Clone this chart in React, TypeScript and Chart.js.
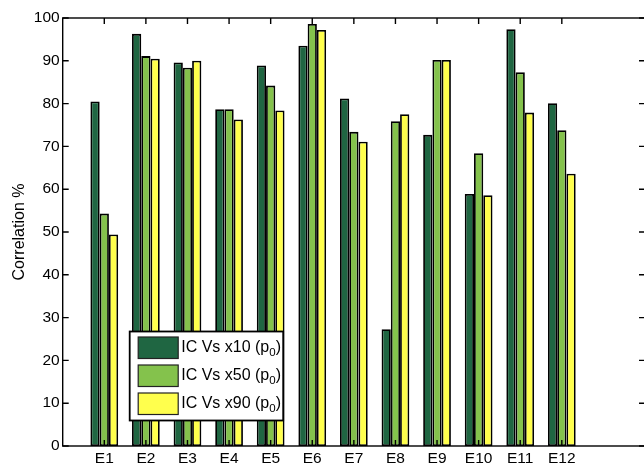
import React, { useEffect, useRef } from "react";
import { Chart, registerables } from "chart.js";

Chart.register(...registerables);

const categories = ["E1", "E2", "E3", "E4", "E5", "E6", "E7", "E8", "E9", "E10", "E11", "E12"];
const seriesLabels = ["IC Vs x10 (p₀)", "IC Vs x50 (p₀)", "IC Vs x90 (p₀)"];
const x10Values = [80.5, 96.3, 89.6, 78.7, 88.9, 93.5, 81.2, 27.3, 72.7, 58.9, 97.4, 80.1];
const x50Values = [54.3, 91.1, 88.4, 78.7, 84.2, 98.6, 73.4, 75.9, 90.2, 68.4, 87.3, 73.8];
const x90Values = [49.4, 90.5, 90.0, 76.3, 78.4, 97.2, 71.1, 77.5, 90.2, 58.6, 77.9, 63.6];
const yTicks = [0, 10, 20, 30, 40, 50, 60, 70, 80, 90, 100];
const seriesColors = ["#1f6642", "#84c24c", "#ffff4d"];

const FONT = '"Liberation Sans", Arial, Helvetica, sans-serif';

const framePlugin = {
  id: "frame",
  afterDatasetsDraw(chart: any) {
    const { ctx, chartArea: a, scales } = chart;
    const x = scales.x;
    const y = scales.y;
    ctx.save();
    ctx.strokeStyle = "#000";
    ctx.lineWidth = 1.4;
    ctx.strokeRect(a.left, a.top, a.right - a.left, a.bottom - a.top);
    const tl = 6;
    ctx.beginPath();
    yTicks.forEach((v) => {
      const py = y.getPixelForValue(v);
      ctx.moveTo(a.left, py);
      ctx.lineTo(a.left + tl, py);
      ctx.moveTo(a.right, py);
      ctx.lineTo(a.right - tl, py);
    });
    categories.forEach((_, i) => {
      const px = x.getPixelForValue(i + 1);
      ctx.moveTo(px, a.top);
      ctx.lineTo(px, a.top + tl);
      ctx.moveTo(px, a.bottom);
      ctx.lineTo(px, a.bottom - tl);
    });
    ctx.stroke();
    ctx.restore();
  },
};

const legendPlugin = {
  id: "boxLegend",
  afterDraw(chart: any) {
    const { ctx, chartArea: a } = chart;
    const bx = a.left + 67;
    const by = a.bottom - 114.5;
    const bw = 153.5;
    const bh = 89;
    ctx.save();
    ctx.fillStyle = "#fff";
    ctx.fillRect(bx, by, bw, bh);
    ctx.strokeStyle = "#000";
    ctx.lineWidth = 1.8;
    ctx.strokeRect(bx, by, bw, bh);
    chart.data.datasets.forEach((ds: any, i: number) => {
      const sx = bx + 8.5;
      const sy = by + 5.5 + i * 28;
      const sw = 40;
      const sh = 21.5;
      ctx.fillStyle = ds.backgroundColor;
      ctx.fillRect(sx, sy, sw, sh);
      ctx.strokeStyle = "#222";
      ctx.lineWidth = 1.2;
      ctx.strokeRect(sx, sy, sw, sh);
      const cy = sy + sh / 2;
      const parts = String(ds.label).split("₀");
      let tx = sx + sw + 3;
      ctx.fillStyle = "#000";
      ctx.textBaseline = "middle";
      ctx.textAlign = "left";
      ctx.font = `16px ${FONT}`;
      ctx.fillText(parts[0], tx, cy);
      tx += ctx.measureText(parts[0]).width;
      if (parts.length > 1) {
        ctx.font = `11.5px ${FONT}`;
        ctx.fillText("0", tx, cy + 5);
        tx += ctx.measureText("0").width;
        ctx.font = `16px ${FONT}`;
        ctx.fillText(parts[1], tx, cy);
      }
    });
    ctx.restore();
  },
};

export default function App() {
  const ref = useRef<HTMLCanvasElement | null>(null);

  useEffect(() => {
    if (!ref.current) return;
    const series = [x10Values, x50Values, x90Values];
    const chart = new Chart(ref.current, {
      type: "bar",
      data: {
        datasets: series.map((vals, si) => ({
          label: seriesLabels[si],
          data: vals.map((v, i) => ({ x: i + 1, y: v })),
          backgroundColor: seriesColors[si],
          borderColor: "#000",
          borderWidth: 1.8,
          borderSkipped: false,
          categoryPercentage: 0.667,
          barPercentage: 1,
        })),
      },
      options: {
        animation: false,
        responsive: false,
        maintainAspectRatio: false,
        layout: { padding: { left: 0, top: 18, right: 35, bottom: 0 } },
        plugins: { legend: { display: false }, tooltip: { enabled: false } },
        scales: {
          x: {
            type: "linear",
            min: 0,
            max: 14,
            offset: false,
            grid: { display: false, drawTicks: false },
            border: { display: false },
            ticks: {
              stepSize: 1,
              autoSkip: false,
              maxRotation: 0,
              minRotation: 0,
              padding: 3,
              color: "#000",
              font: { family: FONT, size: 15.5 },
              callback: (v: any) => categories[Number(v) - 1] ?? "",
            },
            afterFit: (s: any) => {
              s.height = 18;
            },
          },
          y: {
            min: 0,
            max: 100,
            grid: { display: false, drawTicks: false },
            border: { display: false },
            ticks: {
              stepSize: 10,
              padding: 3,
              color: "#000",
              font: { family: FONT, size: 15.5 },
            },
            title: {
              display: true,
              text: "Correlation %",
              color: "#000",
              font: { family: FONT, size: 16 },
              padding: { top: 9.5, bottom: 0 },
            },
            afterFit: (s: any) => {
              s.width = 62.7;
            },
          },
        },
      },
      plugins: [framePlugin, legendPlugin],
    });
    return () => chart.destroy();
  }, []);

  return (
    <div
      style={{
        position: "fixed",
        left: 0,
        top: 0,
        width: 644,
        height: 464,
        overflow: "hidden",
        background: "#fff",
      }}
    >
      <canvas ref={ref} width={680} height={464} style={{ display: "block" }} />
    </div>
  );
}
